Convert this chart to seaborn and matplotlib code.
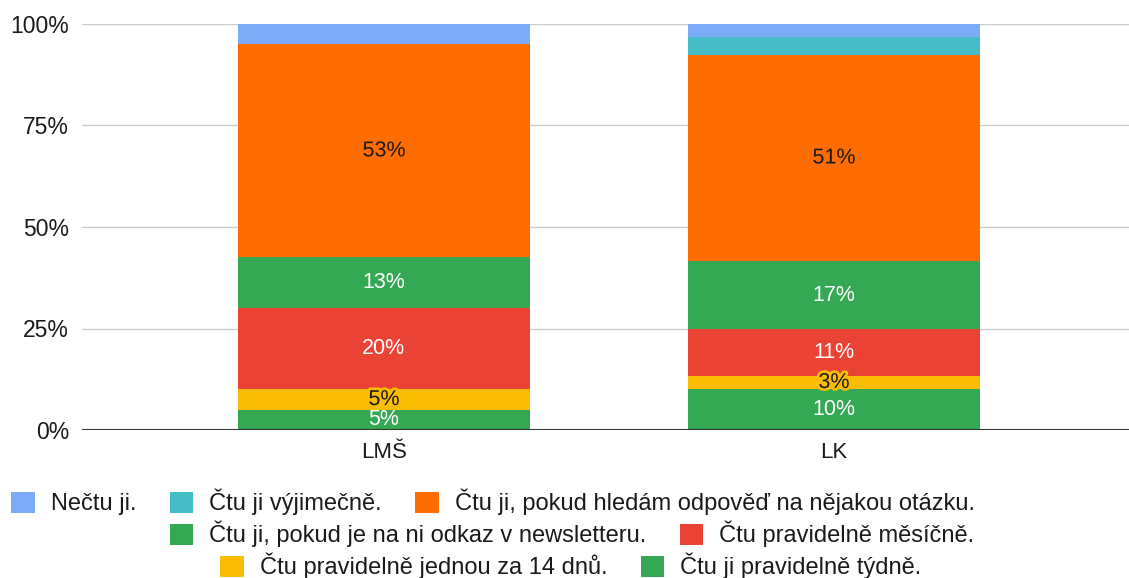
import math
import matplotlib
matplotlib.use("Agg")
import matplotlib.pyplot as plt
import matplotlib.patheffects as pe
from matplotlib.patches import Patch
import pandas as pd
import seaborn as sns

# Respondent groups
groups = ["LMŠ", "LK"]

# Share of respondents (%) per answer, stacked bottom to top
weekly = [5.0, 10.0]          # Čtu ji pravidelně týdně.
biweekly = [5.0, 3.4]         # Čtu pravidelně jednou za 14 dnů.
monthly = [20.0, 11.4]        # Čtu pravidelně měsíčně.
newsletter = [12.5, 16.8]     # Čtu ji, pokud je na ni odkaz v newsletteru.
question = [52.5, 50.8]       # Čtu ji, pokud hledám odpověď na nějakou otázku.
rarely = [0.0, 4.3]           # Čtu ji výjimečně.
never = [5.0, 3.3]            # Nečtu ji.

series_labels = [
    "Čtu ji pravidelně týdně.",
    "Čtu pravidelně jednou za 14 dnů.",
    "Čtu pravidelně měsíčně.",
    "Čtu ji, pokud je na ni odkaz v newsletteru.",
    "Čtu ji, pokud hledám odpověď na nějakou otázku.",
    "Čtu ji výjimečně.",
    "Nečtu ji.",
]
series_values = [weekly, biweekly, monthly, newsletter, question, rarely, never]
series_colors = ["#34a853", "#fbbc04", "#ea4335", "#34a853", "#ff6d01", "#46bdc6", "#7baaf7"]
label_colors = ["white", "black", "white", "white", "black", None, None]

ytick_labels = ["0%", "25%", "50%", "75%", "100%"]

TEXT = "#1a1a1a"
W, H = 1129, 578

sns.set_theme(style="white")
plt.rcParams["font.family"] = ["Liberation Sans", "DejaVu Sans"]

fig = plt.figure(figsize=(W / 100, H / 100), dpi=100)
ax = fig.add_axes([82 / W, 1 - 430 / H, 1 - 82 / W, 406 / H])

bottom = [0.0, 0.0]
for vals, color, lab_col in zip(series_values, series_colors, label_colors):
    df = pd.DataFrame({"group": groups, "value": vals})
    sns.barplot(data=df, x="group", y="value", color=color, width=0.649,
                bottom=bottom, ax=ax, saturation=1, linewidth=0, zorder=2)
    if lab_col is not None:
        for i, v in enumerate(vals):
            if v <= 0:
                continue
            txt = f"{math.floor(v + 0.5)}%"
            effects = []
            if lab_col == "black":
                effects = [pe.withStroke(linewidth=4, foreground=color)]
            ax.text(i, bottom[i] + v / 2, txt, ha="center", va="center",
                    fontsize=15.5, color="white" if lab_col == "white" else TEXT,
                    zorder=5, path_effects=effects)
    bottom = [b + v for b, v in zip(bottom, vals)]

ax.set_xlim(-0.671, 1.656)
ax.set_ylim(0, 100)
ax.set_yticks([0, 25, 50, 75, 100])
ax.set_yticklabels(ytick_labels, fontsize=16.5, color=TEXT)
ax.set_xlabel("")
ax.set_ylabel("")
ax.tick_params(axis="x", labelsize=16, colors=TEXT, length=0, pad=9)
ax.tick_params(axis="y", length=0, pad=9.4)
for s in ax.spines.values():
    s.set_visible(False)
ax.grid(axis="y", color="#cccccc", linewidth=1, zorder=0)
ax.set_axisbelow(True)
ax.axhline(0, color="#333333", linewidth=1.5, zorder=4)

# Legend in three rows
def handle(c):
    return Patch(facecolor=c, edgecolor="none")

rows = [
    [6, 5, 4],
    [3, 2],
    [1, 0],
]
row_cx = [493, 572, 571]
row_cy = [502, 534, 566]
for idx, cx, cy in zip(rows, row_cx, row_cy):
    leg = fig.legend([handle(series_colors[k]) for k in idx],
                     [series_labels[k] for k in idx],
                     loc="center", bbox_to_anchor=(cx / W, 1 - cy / H), ncol=len(idx),
                     frameon=False, fontsize=17, handlelength=1.0, handleheight=1.0,
                     handletextpad=0.68, columnspacing=1.4, borderpad=0,
                     borderaxespad=0)
    for t in leg.get_texts():
        t.set_color(TEXT)

fig.savefig("out.png", dpi=100)
